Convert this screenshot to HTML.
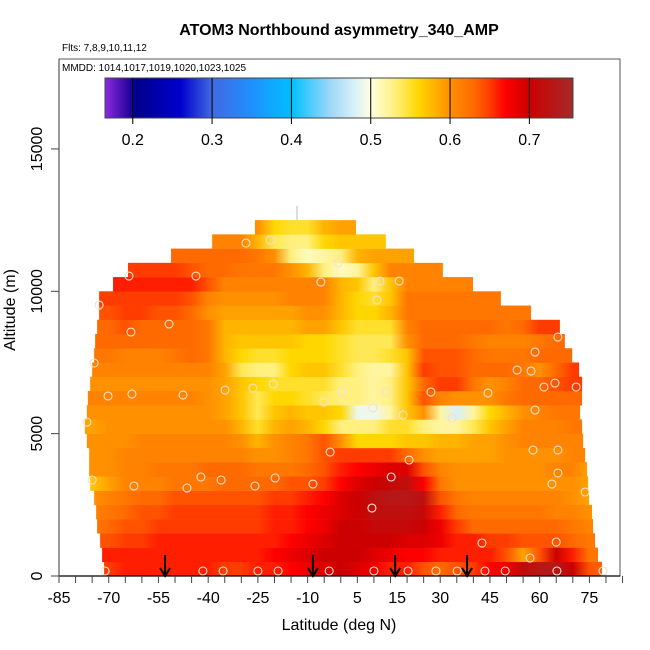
<!DOCTYPE html>
<html><head><meta charset="utf-8"><style>
html,body{margin:0;padding:0;background:#fff;}
svg{display:block;font-family:"Liberation Sans",sans-serif;}
</style></head><body>
<svg id="chart" width="650" height="650" viewBox="0 0 650 650" xmlns="http://www.w3.org/2000/svg">
<defs id="defs"></defs>
<text x="339" y="35" font-size="16" font-weight="bold" text-anchor="middle">ATOM3 Northbound asymmetry_340_AMP</text>
<text x="62" y="51" font-size="10">Flts: 7,8,9,10,11,12</text>
<rect x="59" y="59" width="561" height="517" fill="none" stroke="#555" stroke-width="1"/>
<text x="62" y="71" font-size="10">MMDD: 1014,1017,1019,1020,1023,1025</text>
<g id="heat"></g>
<g id="marks"></g>
<g id="cbar"></g>
<g id="axes"></g>
<text x="339" y="630" font-size="16" text-anchor="middle">Latitude (deg N)</text>
<text transform="translate(15,310) rotate(-90)" font-size="16" text-anchor="middle">Altitude (m)</text>
</svg>
<script>
const latNodes=[-75,-70,-65,-60,-55,-50,-45,-40,-35,-30,-25,-20,-15,-10,-5,0,5,10,15,20,25,30,35,40,45,50,55,60,65,70,75,80];
const rowBottoms=[0,500,1000,1500,2000,2500,3000,3500,4000,4500,5000,5500,6000,6500,7000,7500,8000,8500,9000,9500,10000,10500,11000,11500,12000];
const rowLeft=[-71.4,-72.0,-72.6,-73.5,-73.8,-74.4,-75.6,-75.9,-75.9,-76.6,-77.2,-76.6,-76.3,-75.6,-75.0,-74.4,-74.1,-73.5,-72.9,-72.9,-68.7,-64.2,-51.2,-38.8,-25.9];
const rowRight=[78.8,77.6,76.7,76.1,75.8,74.9,74.6,74.3,73.7,73.1,72.8,72.2,72.8,72.8,71.9,69.8,67.6,66.1,57.4,48.3,39.9,30.8,22.1,13.6,4.6];
const rowValues=[
[.65,.65,.66,.66,.66,.66,.66,.66,.65,.65,.66,.66,.67,.68,.69,.70,.69,.68,.66,.66,.64,.63,.64,.65,.67,.68,.71,.73,.73,.70,.64,.63],
[.66,.66,.66,.66,.66,.66,.66,.66,.66,.66,.66,.67,.68,.69,.70,.70,.70,.69,.68,.67,.67,.66,.66,.66,.66,.64,.59,.64,.70,.66,.62,.62],
[.64,.64,.65,.65,.66,.66,.66,.66,.66,.66,.66,.66,.67,.68,.69,.70,.70,.70,.70,.69,.69,.68,.66,.66,.65,.65,.64,.64,.64,.63,.62,.62],
[.62,.63,.64,.64,.65,.65,.65,.65,.65,.65,.65,.66,.66,.67,.68,.70,.70,.71,.71,.71,.70,.68,.65,.63,.63,.63,.63,.63,.63,.62,.61,.61],
[.61,.62,.63,.64,.64,.65,.65,.65,.65,.65,.65,.66,.66,.67,.68,.69,.70,.72,.72,.72,.71,.66,.63,.62,.62,.62,.62,.62,.61,.61,.60,.60],
[.60,.61,.62,.63,.63,.64,.64,.64,.64,.64,.64,.65,.65,.66,.67,.69,.70,.72,.73,.73,.72,.64,.62,.61,.61,.61,.61,.61,.61,.60,.59,.59],
[.57,.59,.61,.61,.61,.62,.62,.62,.63,.63,.63,.63,.64,.64,.65,.67,.69,.70,.71,.72,.67,.62,.60,.60,.60,.60,.60,.60,.60,.60,.59,.59],
[.60,.60,.61,.61,.62,.62,.62,.63,.63,.63,.62,.62,.62,.63,.64,.66,.67,.68,.69,.69,.64,.61,.60,.60,.60,.60,.60,.60,.61,.61,.59,.59],
[.60,.60,.61,.61,.61,.61,.61,.61,.61,.61,.60,.60,.61,.62,.64,.65,.65,.65,.65,.63,.60,.59,.59,.59,.59,.60,.60,.60,.60,.61,.61,.61],
[.60,.60,.60,.61,.61,.61,.61,.61,.61,.60,.58,.60,.61,.62,.64,.60,.56,.56,.56,.57,.57,.58,.58,.59,.59,.60,.61,.61,.61,.61,.61,.61],
[.59,.60,.60,.60,.60,.60,.60,.60,.60,.58,.55,.58,.59,.58,.56,.53,.53,.53,.55,.55,.53,.52,.52,.54,.57,.59,.61,.61,.61,.62,.62,.62],
[.60,.60,.60,.60,.60,.60,.60,.60,.59,.57,.54,.57,.58,.57,.57,.56,.49,.49,.52,.57,.60,.52,.48,.52,.56,.58,.60,.61,.62,.62,.62,.62],
[.61,.61,.61,.61,.61,.61,.61,.60,.59,.57,.54,.56,.56,.55,.54,.53,.53,.52,.53,.57,.64,.61,.60,.60,.60,.62,.63,.63,.63,.63,.63,.63],
[.60,.60,.60,.60,.60,.60,.60,.60,.59,.57,.56,.55,.55,.55,.55,.53,.53,.52,.53,.57,.63,.65,.65,.62,.60,.61,.63,.63,.64,.65,.65,.65],
[.61,.61,.61,.61,.61,.61,.61,.61,.59,.54,.53,.53,.56,.57,.57,.55,.53,.52,.52,.57,.65,.64,.64,.63,.63,.63,.62,.60,.63,.65,.65,.65],
[.62,.62,.61,.61,.61,.62,.63,.62,.58,.56,.55,.55,.56,.56,.56,.55,.54,.54,.55,.57,.64,.64,.64,.63,.62,.62,.62,.63,.63,.63,.63,.63],
[.63,.63,.63,.63,.63,.63,.63,.62,.58,.57,.57,.57,.57,.56,.56,.55,.54,.54,.54,.60,.63,.63,.63,.62,.61,.61,.61,.62,.63,.63,.63,.63],
[.63,.63,.64,.63,.63,.63,.63,.62,.58,.58,.58,.58,.58,.59,.59,.57,.55,.55,.55,.61,.63,.63,.63,.63,.63,.62,.63,.65,.65,.65,.65,.65],
[.64,.64,.65,.65,.64,.64,.63,.60,.59,.59,.59,.59,.59,.60,.60,.58,.56,.56,.58,.62,.62,.62,.62,.62,.62,.62,.62,.62,.62,.62,.62,.62],
[.65,.65,.65,.65,.65,.65,.64,.61,.60,.60,.60,.60,.61,.61,.61,.58,.56,.55,.57,.62,.62,.62,.62,.62,.62,.62,.62,.62,.62,.62,.62,.62],
[.66,.66,.66,.66,.66,.66,.66,.64,.61,.61,.61,.61,.61,.61,.61,.58,.57,.53,.57,.61,.61,.61,.61,.61,.61,.61,.61,.61,.61,.61,.61,.61],
[.65,.65,.65,.65,.65,.65,.64,.63,.63,.62,.62,.62,.60,.58,.53,.51,.52,.57,.61,.61,.61,.61,.61,.61,.61,.61,.61,.61,.61,.61,.61,.61],
[.63,.63,.63,.63,.63,.63,.63,.63,.63,.63,.62,.60,.53,.51,.52,.53,.58,.59,.59,.59,.59,.59,.59,.59,.59,.59,.59,.59,.59,.59,.59,.59],
[.61,.61,.61,.61,.61,.61,.61,.61,.61,.61,.58,.54,.53,.53,.56,.57,.57,.57,.57,.57,.57,.57,.57,.57,.57,.57,.57,.57,.57,.57,.57,.57],
[.60,.60,.60,.60,.60,.60,.60,.60,.60,.60,.60,.56,.55,.55,.58,.59,.59,.59,.59,.59,.59,.59,.59,.59,.59,.59,.59,.59,.59,.59,.59,.59]
];
const pointLat=[-70.2,-63.0,-47.6,-34.9,-26.5,-20.4,-5.1,-76.6,-3.2,-75.0,-62.4,-46.4,-42.2,-36.1,-25.9,-19.8,-8.4,-63.9,-43.7,-28.6,-21.3,-0.8,-6.0,-72.9,-51.8,-63.3,-74.4,11.8,17.6,10.9,65.5,58.6,53.2,57.4,61.3,64.6,71.0,0.4,13.7,27.2,44.4,9.7,18.8,33.6,58.6,58.0,65.5,20.6,65.5,63.7,73.7,15.2,9.4,42.6,65.0,57.1,-71.1,-41.6,-35.5,-25.0,-18.9,-3.5,10.0,20.3,28.7,35.1,43.5,49.6,65.2,79.1];
const pointAlt=[6322,6392,6357,6532,6603,6743,6111,5408,4355,3372,3161,3091,3477,3372,3161,3442,3231,10536,10536,11695,11800,10993,10325,9518,8850,8569,7481,10360,10360,9693,8394,7867,7235,7200,6638,6778,6638,6462,6462,6462,6427,5900,5654,5549,5830,4425,4425,4074,3617,3231,2950,3477,2388,1159,1194,632,176,176,176,176,176,176,176,176,176,176,176,176,176,176];
const arrowLat=[-53,-8.4,16.4,38.1];
const xTickLabels=["-85","-70","-55","-40","-25","-10","5","15","30","45","60","75"];
const xTickLabelLat=[-85,-70,-55,-40,-25,-10,5,17,30,45,60,75];
const yTicks=[0,5000,10000,15000];
const cbarTicks=[0.2,0.3,0.4,0.5,0.6,0.7];
const cmap=[[0.165,'#8a2be2'],[0.19,'#3a0aa8'],[0.205,'#00008b'],[0.26,'#0000cd'],[0.3,'#4169e1'],[0.35,'#1e90ff'],[0.4,'#00bfff'],[0.45,'#a0d8f8'],[0.48,'#d8f0f8'],[0.5,'#ffffe0'],[0.53,'#fff080'],[0.56,'#ffd700'],[0.6,'#ff9000'],[0.63,'#ff6a00'],[0.65,'#ff3c00'],[0.67,'#ff0000'],[0.7,'#cc0000'],[0.755,'#a52a2a']];

const NS='http://www.w3.org/2000/svg';
const xS=lat=>59+(lat+85)*3.315;
const yS=alt=>576-alt*0.02847;
const vS=v=>105+(v-0.165)/(0.755-0.165)*468;
function hex(c){return [1,3,5].map(i=>parseInt(c.substr(i,2),16));}
function colorOf(v){
  if(v<=cmap[0][0])return cmap[0][1];
  for(let i=1;i<cmap.length;i++){
    if(v<=cmap[i][0]){
      const t=(v-cmap[i-1][0])/(cmap[i][0]-cmap[i-1][0]);
      const a=hex(cmap[i-1][1]),b=hex(cmap[i][1]);
      return 'rgb('+a.map((x,k)=>Math.round(x+(b[k]-x)*t)).join(',')+')';
    }
  }
  return cmap[cmap.length-1][1];
}
function mk(tag,attrs,parent){const e=document.createElementNS(NS,tag);for(const k in attrs)e.setAttribute(k,attrs[k]);parent.appendChild(e);return e;}
const defs=document.getElementById('defs');
const heat=document.getElementById('heat');
rowBottoms.forEach((b,r)=>{
  const g=mk('linearGradient',{id:'rg'+r,gradientUnits:'userSpaceOnUse',x1:xS(latNodes[0]),x2:xS(latNodes[latNodes.length-1]),y1:0,y2:0},defs);
  rowValues[r].forEach((v,i)=>{mk('stop',{offset:(latNodes[i]-latNodes[0])/(latNodes[latNodes.length-1]-latNodes[0]),'stop-color':colorOf(v)},g);});
  const y1=yS(b+500),y0=yS(b);
  const rc=mk('rect',{x:xS(rowLeft[r]),y:y1,width:xS(rowRight[r])-xS(rowLeft[r]),height:y0-y1+0.3,fill:'url(#rg'+r+')'},heat);
  
  
});
const tl=mk('line',{x1:xS(-13.2),x2:xS(-13.2),y1:yS(13000),y2:yS(12500),stroke:'#bbb','stroke-width':1},heat);



const marks=document.getElementById('marks');
pointLat.forEach((la,i)=>{
  const c=mk('circle',{cx:xS(la),cy:yS(pointAlt[i]),r:4,fill:'none',stroke:'#f4e0d0','stroke-width':1.1},marks);
  
  
});
arrowLat.forEach(la=>{
  const x=xS(la);
  const a=mk('g',{},marks);
  
  
  mk('line',{x1:x,x2:x,y1:555,y2:575,stroke:'#000','stroke-width':2},a);
  mk('path',{d:`M${x-5},${568} L${x},${576} L${x+5},${568}`,fill:'none',stroke:'#000','stroke-width':2},a);
});

const cbar=document.getElementById('cbar');
const cg=mk('linearGradient',{id:'cbg',gradientUnits:'userSpaceOnUse',x1:105,x2:573,y1:0,y2:0},defs);
cmap.forEach(s=>mk('stop',{offset:(vS(s[0])-105)/468,'stop-color':s[1]},cg));
const cr=mk('rect',{x:105,y:78,width:468,height:40,fill:'url(#cbg)',stroke:'#444','stroke-width':1},cbar);


cbarTicks.forEach(v=>{
  const x=vS(v);
  mk('line',{x1:x,x2:x,y1:78,y2:124,stroke:'#000','stroke-width':1},cbar);
  const t=mk('text',{x:x,y:145,'font-size':16,'text-anchor':'middle'},cbar);
  t.textContent=v.toFixed(1);
  
  
});

const axes=document.getElementById('axes');
mk('line',{x1:59,x2:620,y1:576,y2:576,stroke:'#000','stroke-width':1.2},axes);
mk('line',{x1:59,x2:59,y1:59,y2:576,stroke:'#555','stroke-width':1.2},axes);
for(let la=-85;la<=85;la+=5){
  const x=xS(la);
  mk('line',{x1:x,x2:x,y1:576,y2:583,stroke:'#444','stroke-width':1},axes);
}
xTickLabels.forEach((s,i)=>{
  const t=mk('text',{x:xS(xTickLabelLat[i]),y:603,'font-size':16,'text-anchor':'middle'},axes);
  t.textContent=s;
  
  
});
yTicks.forEach(v=>{
  const y=yS(v);
  mk('line',{x1:51,x2:59,y1:y,y2:y,stroke:'#444','stroke-width':1},axes);
  const t=mk('text',{transform:`translate(42,${y}) rotate(-90)`,'font-size':16,'text-anchor':'middle'},axes);
  t.textContent=String(v);
  
  
});
</script>
</body></html>
